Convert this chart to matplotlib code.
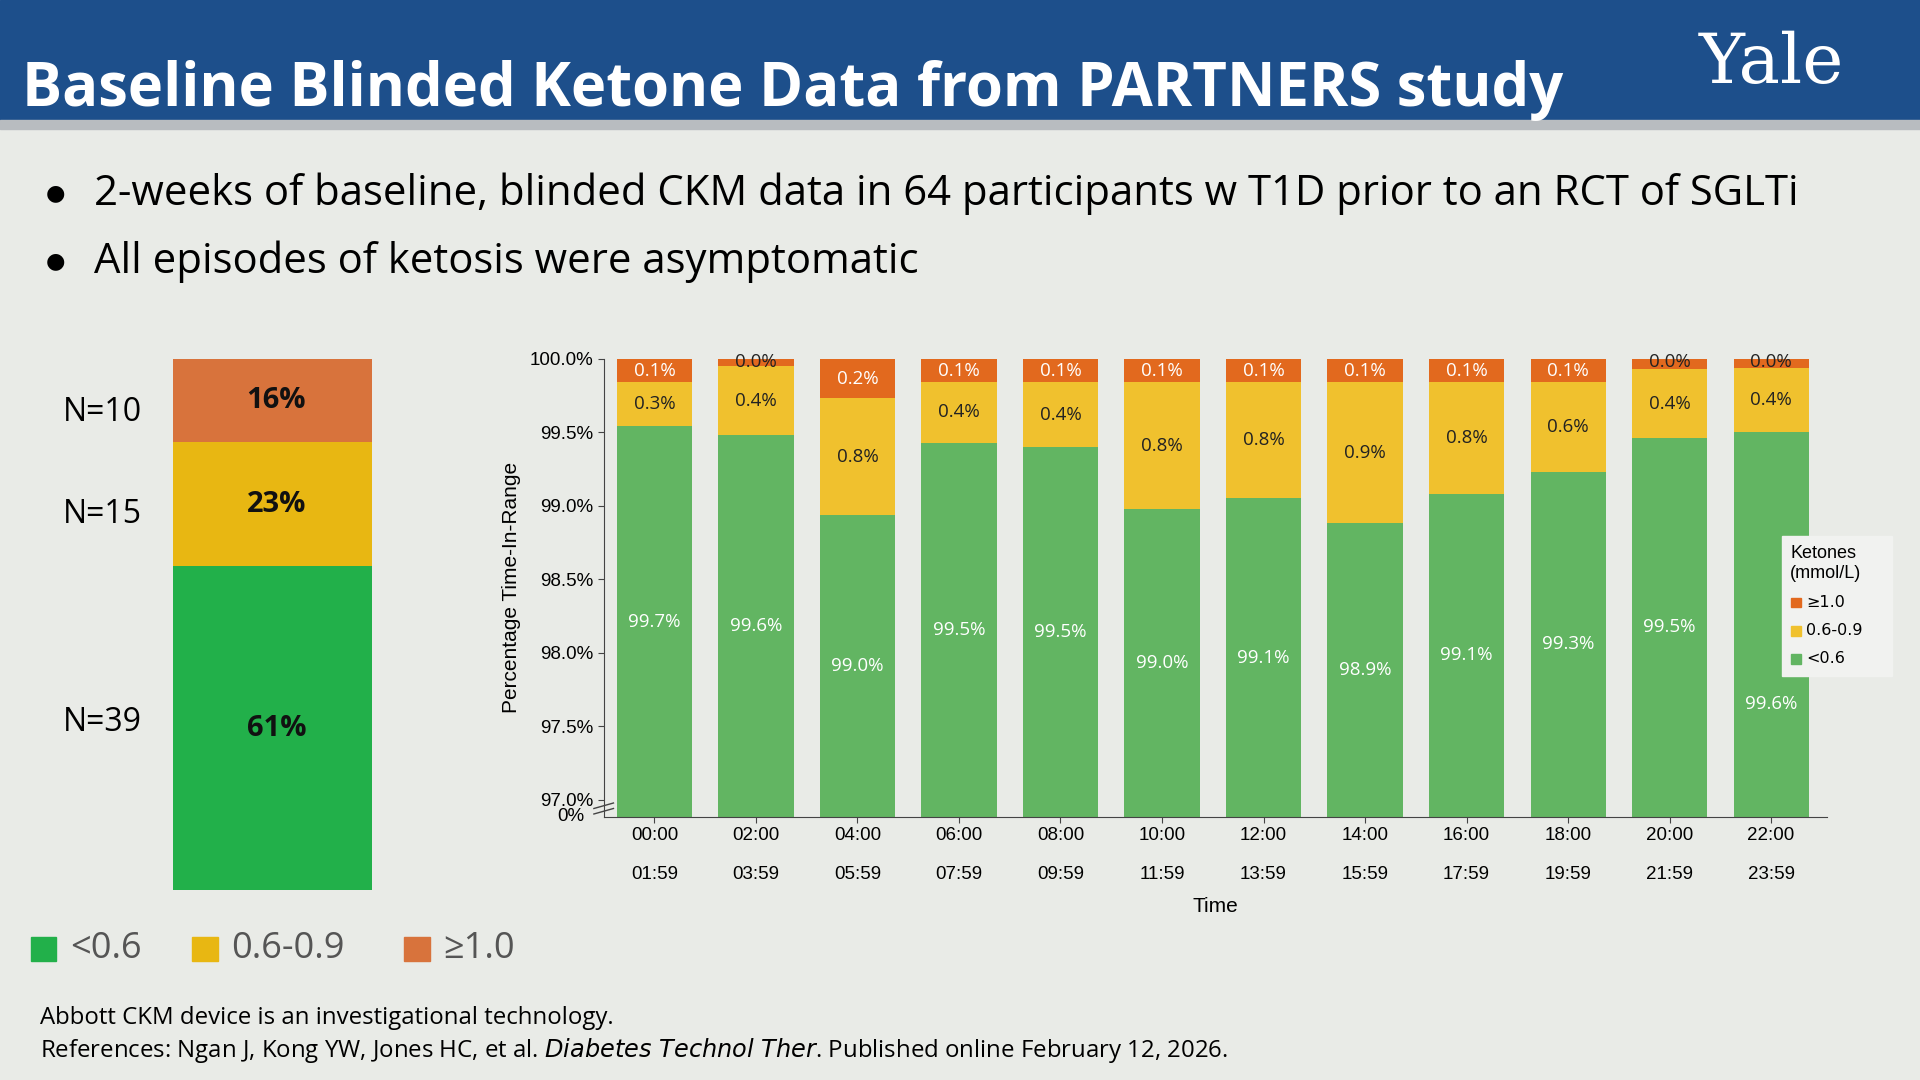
import matplotlib.pyplot as plt
import numpy as np
from matplotlib.patches import Rectangle

W, H = 1568, 882

# chart data
slots_start = ["00:00", "02:00", "04:00", "06:00", "08:00", "10:00",
               "12:00", "14:00", "16:00", "18:00", "20:00", "22:00"]
slots_end = ["01:59", "03:59", "05:59", "07:59", "09:59", "11:59",
             "13:59", "15:59", "17:59", "19:59", "21:59", "23:59"]
green_pct = [99.54, 99.48, 98.94, 99.43, 99.40, 98.98, 99.05, 98.88, 99.08, 99.23, 99.46, 99.50]
orange_pct = [0.16, 0.05, 0.27, 0.16, 0.16, 0.16, 0.16, 0.16, 0.16, 0.16, 0.07, 0.06]
green_lbl = ["99.7%", "99.6%", "99.0%", "99.5%", "99.5%", "99.0%", "99.1%", "98.9%", "99.1%", "99.3%", "99.5%", "99.6%"]
yellow_lbl = ["0.3%", "0.4%", "0.8%", "0.4%", "0.4%", "0.8%", "0.8%", "0.9%", "0.8%", "0.6%", "0.4%", "0.4%"]
orange_lbl = ["0.1%", "0.0%", "0.2%", "0.1%", "0.1%", "0.1%", "0.1%", "0.1%", "0.1%", "0.1%", "0.0%", "0.0%"]

# participant summary
groups = ["<0.6", "0.6-0.9", "≥1.0"]
group_n = [39, 15, 10]
group_pct = [61, 23, 16]

BG = "#e9ebe7"
G, Y, O = "#62b562", "#f0c12e", "#e2691e"
LG, LY, LO = "#22b04a", "#e8b712", "#d8733c"

plt.rcParams['font.family'] = ['Open Sans', 'DejaVu Sans']
fig = plt.figure(figsize=(19.2, 10.8), dpi=100, facecolor=BG)


def fx(x):
    return x / W


def fy(y):
    return 1 - y / H


# header
fig.patches.append(Rectangle((0, fy(98)), 1, 1 - fy(98), transform=fig.transFigure, color="#1d4f8b"))
fig.patches.append(Rectangle((0, fy(105)), 1, fy(98) - fy(105), transform=fig.transFigure, color="#b8bcc0"))
fig.text(fx(18), fy(74), "Baseline Blinded Ketone Data from PARTNERS study", color="white",
         fontsize=43, fontweight="bold", va="center")
fig.text(fx(1447), fy(52), "Yale", color="white", fontsize=50, family="DejaVu Serif", ha="center", va="center")

fig.text(fx(45), fy(158), "●", fontsize=16, va="center", ha="center")
fig.text(fx(77), fy(158), "2-weeks of baseline, blinded CKM data in 64 participants w T1D prior to an RCT of SGLTi",
         fontsize=30.2, va="center")
fig.text(fx(45), fy(214), "●", fontsize=16, va="center", ha="center")
fig.text(fx(77), fy(214), "All episodes of ketosis were asymptomatic", fontsize=30.2, va="center")

# left stacked bar
axl = fig.add_axes([fx(141), fy(727), fx(304) - fx(141), fy(293) - fy(727)])
bottom = 0
for n, p, c, yy in zip(group_n, group_pct, [LG, LY, LO], [590, 420, 337]):
    axl.bar(0, n, bottom=bottom, color=c, width=1)
    axl.text(0.02, bottom + n / 2, f"{p}%", ha="center", va="center", fontsize=21, fontweight="bold", color="#111")
    fig.text(fx(84), fy(yy), f"N={n}", ha="center", va="center", fontsize=23)
    bottom += n
axl.set_xlim(-0.5, 0.5)
axl.set_ylim(0, sum(group_n))
axl.axis("off")

# bottom legend
lx = [25, 157, 330]
for x, lab, c in zip(lx, groups, [LG, LY, LO]):
    fig.patches.append(Rectangle((fx(x), fy(785)), fx(21), fy(765) - fy(785), transform=fig.transFigure, color=c))
    fig.text(fx(x + 32), fy(775), lab, fontsize=26, color="#555", va="center")

fig.text(fx(33), fy(831), "Abbott CKM device is an investigational technology.", fontsize=17.3, va="center")
fig.text(fx(33), fy(858), "References: Ngan J, Kong YW, Jones HC, et al. $\\it{Diabetes\\ Technol\\ Ther}$. "
         "Published online February 12, 2026.", fontsize=17.3, va="center")

# right chart
ax = fig.add_axes([fx(493), fy(667), fx(1492) - fx(493), fy(293) - fy(667)])
ax.set_facecolor(BG)
ymin = 96.885
x = np.arange(len(slots_start))
green = np.array(green_pct)
orange = np.array(orange_pct)
yellow = 100 - green - orange
ax.bar(x, green - ymin, bottom=ymin, color=G, width=0.74)
ax.bar(x, yellow, bottom=green, color=Y, width=0.74)
ax.bar(x, orange, bottom=green + yellow, color=O, width=0.74)
for i in x:
    gy = (ymin + green[i]) / 2 if i < len(x) - 1 else 97.65
    ax.text(i, gy, green_lbl[i], ha="center", va="center", color="white", fontsize=13.5)
    ax.text(i, green[i] + yellow[i] / 2, yellow_lbl[i], ha="center", va="center", color="#222", fontsize=13.5)
    if orange[i] > 0.1:
        ax.text(i, 100 - orange[i] / 2, orange_lbl[i], ha="center", va="center", color="white", fontsize=13.5)
    else:
        ax.text(i, 99.98, orange_lbl[i], ha="center", va="center", color="#222", fontsize=13.5)
ax.set_xlim(-0.5, len(x) - 0.45)
ax.set_ylim(ymin, 100)
ax.set_yticks([97.0, 97.5, 98.0, 98.5, 99.0, 99.5, 100.0])
ax.set_yticklabels(["97.0%", "97.5%", "98.0%", "98.5%", "99.0%", "99.5%", "100.0%"], fontsize=13.5,
                   family="Liberation Sans")
ax.text(-0.016, 0, "0%", transform=ax.transAxes, ha="right", va="center", fontsize=13.5, family="Liberation Sans")
ax.set_xticks(x)
ax.set_xticklabels([f"{a}\n\n{b}" for a, b in zip(slots_start, slots_end)], fontsize=13.5, family="Liberation Sans")
ax.tick_params(length=4, color="#444")
for s in ["top", "right"]:
    ax.spines[s].set_visible(False)
ax.spines["left"].set_color("#444")
ax.spines["bottom"].set_color("#444")
ax.set_xlabel("Time", fontsize=15, family="Liberation Sans", labelpad=10)
ax.set_ylabel("Percentage Time-In-Range", fontsize=15, family="Liberation Sans", labelpad=6)
# axis break marks
for dy in (0.012, 0.024):
    ax.plot([-0.008, 0.008], [dy - 0.006, dy + 0.006], transform=ax.transAxes, color="#444", lw=1, clip_on=False)

# inset legend
fig.patches.append(Rectangle((fx(1455), fy(552)), fx(90), fy(438) - fy(552), transform=fig.transFigure,
                             color="#f1f2f0"))
fig.text(fx(1462), fy(460), "Ketones\n(mmol/L)", fontsize=13, family="Liberation Sans", va="center")
for yy, lab, c in zip([492, 515, 538], ["≥1.0", "0.6-0.9", "<0.6"], [O, Y, G]):
    fig.patches.append(Rectangle((fx(1463), fy(yy + 4)), fx(8), fy(yy - 4) - fy(yy + 4),
                                 transform=fig.transFigure, color=c))
    fig.text(fx(1475), fy(yy), lab, fontsize=11.5, family="DejaVu Sans", va="center")

fig.savefig("out.png", dpi=100, facecolor=BG)
